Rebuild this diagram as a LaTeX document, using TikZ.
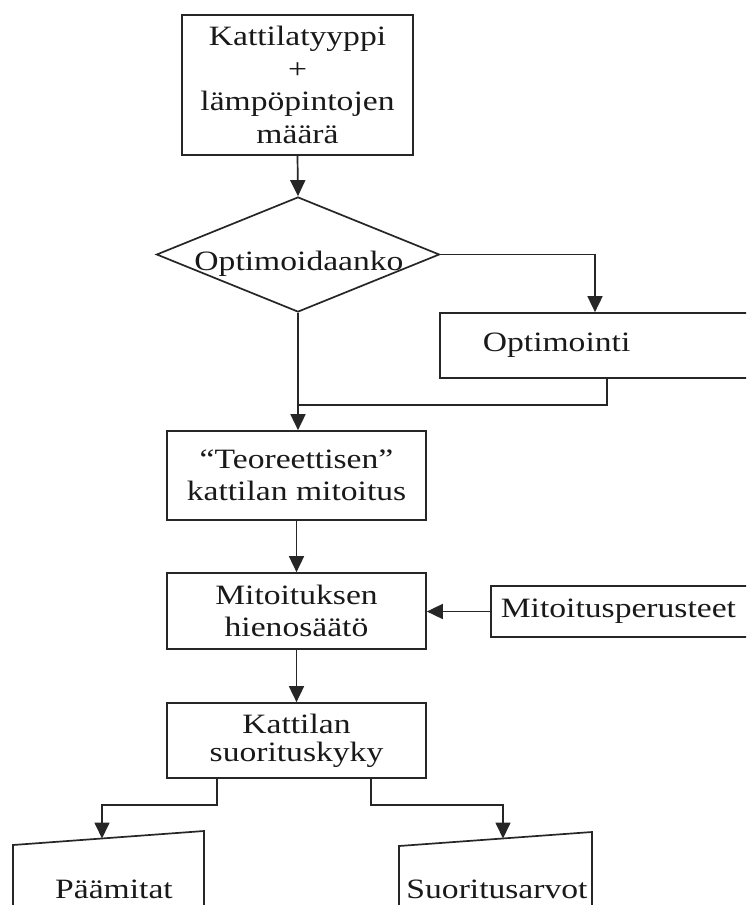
\documentclass[tikz,border=0pt]{standalone}
\usepackage{fontspec}
\setmainfont[FakeStretch=1.2]{Liberation Serif}
\usetikzlibrary{arrows.meta,shapes.geometric}
\begin{document}
\begin{tikzpicture}[x=0.5pt,y=-0.5pt,
  every node/.style={font=\fontsize{14pt}{16.2pt}\selectfont, text=black!90},
  line/.style={draw=black!85, line width=0.85pt},
  arr/.style={line, -{Triangle[length=8pt,width=7.5pt]}},
  box/.style={line, rectangle, align=center, inner sep=2pt},
  openbox/.style={line, rectangle, align=left, anchor=west}]
\clip (0,0) rectangle (746,905);
\fill[white] (0,0) rectangle (746,905);

% nodes
\node[box, minimum width=115.5pt, minimum height=70pt] (typ) at (297.5,85)
  {Kattilatyyppi\\+\\lämpöpintojen\\määrä};
\node[line, diamond, minimum width=141.5pt, minimum height=57.5pt, inner sep=0pt] (opt) at (298,254.5) {};
\node[anchor=base, inner sep=0pt] (optt) at (299,270) {Optimoidaanko};
\node[openbox, minimum height=32.5pt, inner xsep=21.5pt, inner ysep=2pt, text width=137pt] (optim) at (439,345.5) {Optimointi};
\node[box, minimum width=129.5pt, minimum height=44.5pt] (teo) at (296.5,475.5)
  {“Teoreettisen”\\kattilan mitoitus};
\node[box, minimum width=129.5pt, minimum height=38pt] (mit) at (296.5,611)
  {Mitoituksen\\hienosäätö};
\node[openbox, minimum height=25.5pt, inner xsep=5pt, inner ysep=2pt, text width=140pt] (mp) at (490,611.5) {Mitoitusperusteet};
\node[box, minimum width=129.5pt, minimum height=37.5pt,
  font=\fontsize{14pt}{13.8pt}\selectfont] (kat) at (296.5,740.5)
  {Kattilan\\suorituskyky};

% output shapes (manual-input style)
\draw[line] (13,925) -- (13,845) -- (204,831) -- (204,925);
\draw[line] (399,925) -- (399,846) -- (592,832) -- (592,925);
\coordinate (pin) at (102,838.5);
\coordinate (sin) at (503,838.5);
\node[anchor=base, inner sep=0pt] (paa) at (114,898) {Päämitat};
\node[anchor=base, inner sep=0pt] (suo) at (497,898) {Suoritusarvot};

% connectors
\draw[arr] (typ.south) -- (opt.north);
\draw[arr] (opt.east) -| ([xshift=78pt]optim.north west);
\coordinate (j) at (298,405);
\draw[line] ([xshift=84pt]optim.south west) |- (j);
\draw[arr] (opt.south) -- (opt.south |- teo.north);
\draw[arr] (teo.south) -- (mit.north);
\draw[arr] (mp.west) -- (mp.west -| mit.east);
\draw[arr] (mit.south) -- (kat.north);
\draw[arr] ([xshift=25.5pt]kat.south west) -- ++(0,26) -| (pin);
\draw[arr] ([xshift=102.5pt]kat.south west) -- ++(0,26) -| (sin);
\end{tikzpicture}
\end{document}
